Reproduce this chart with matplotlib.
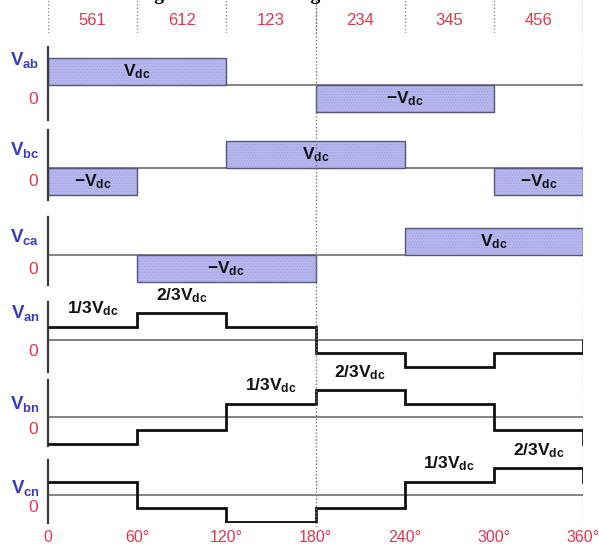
import matplotlib
matplotlib.use("Agg")
import matplotlib.pyplot as plt

plt.rcParams["font.family"] = ["Liberation Sans", "DejaVu Sans"]
plt.rcParams["mathtext.fontset"] = "custom"
plt.rcParams["mathtext.rm"] = "Liberation Sans"
plt.rcParams["mathtext.bf"] = "Liberation Sans:bold"
plt.rcParams["mathtext.it"] = "Liberation Sans:italic"
plt.rcParams["hatch.linewidth"] = 0.4

# ---------------------------------------------------------------------------
# data (one value per 60 degree sector, in units of Vdc)
# ---------------------------------------------------------------------------
edges = [0, 60, 120, 180, 240, 300, 360]
sector_names = ["561", "612", "123", "234", "345", "456"]
tick_labels = ["0", "60°", "120°", "180°", "240°", "300°", "360°"]

v_ab = [1, 1, 0, -1, -1, 0]
v_bc = [-1, 0, 1, 1, 0, -1]
v_ca = [0, -1, -1, 0, 1, 1]

v_an = [1 / 3, 2 / 3, 1 / 3, -1 / 3, -2 / 3, -1 / 3]
v_bn = [-2 / 3, -1 / 3, 1 / 3, 2 / 3, 1 / 3, -1 / 3]
v_cn = [1 / 3, -1 / 3, -2 / 3, -1 / 3, 1 / 3, 2 / 3]
end_levels = [0, -2 / 3, 1 / 3]          # where each phase trace ends at 360
labelled_sectors = [[0, 1], [2, 3], [4, 5]]

line_names = ["ab", "bc", "ca"]
phase_names = ["an", "bn", "cn"]

# ---------------------------------------------------------------------------
# layout (pixels of a 599 x 549 figure)
# ---------------------------------------------------------------------------
W, H = 599, 549
X0, X1 = 48, 583

BLUE = "#3b3bc4"
RED = "#e2384e"
BAR_FACE = "#b6b7ee"
BAR_HATCH = "#9d9edc"
BAR_EDGE = "#55557a"
AXIS_C = "#3a3a3a"
ZERO_C = "#7a7a7a"

fig = plt.figure(figsize=(W / 100, H / 100), dpi=100)


def add_axes_px(top, bottom):
    return fig.add_axes([X0 / W, 1 - bottom / H, (X1 - X0) / W, (bottom - top) / H])


def make_panel(top, bottom, zero, scale):
    ax = add_axes_px(top, bottom)
    ax.set_facecolor("none")
    ax.set_xlim(0, 360)
    ax.set_ylim(-(bottom - zero) / scale, (zero - top) / scale)
    for s in ["top", "right", "bottom"]:
        ax.spines[s].set_visible(False)
    ax.spines["left"].set_color(AXIS_C)
    ax.spines["left"].set_linewidth(1.6)
    ax.set_xticks([])
    ax.set_yticks([])
    ax.axhline(0, color=ZERO_C, lw=1.3, zorder=1)
    return ax


def side_labels(ax, name, up_px, down_px):
    ax.annotate(r"$\mathbf{V}_{\mathbf{%s}}$" % name, xy=(0, 0), xytext=(-6, up_px * 0.72),
                textcoords="offset points", ha="right", va="center",
                color=BLUE, fontsize=13.5)
    ax.annotate("0", xy=(0, 0), xytext=(-7, -down_px * 0.72),
                textcoords="offset points", ha="right", va="center",
                color=RED, fontsize=12.5)


def runs(vals):
    # group neighbouring sectors with the same value
    out = []
    i = 0
    while i < len(vals):
        j = i
        while j + 1 < len(vals) and vals[j + 1] == vals[i]:
            j += 1
        out.append((edges[i], edges[j + 1], vals[i]))
        i = j + 1
    return out


# header with sector numbers
hdr = add_axes_px(0, 33)
hdr.set_xlim(0, 360)
hdr.set_ylim(0, 1)
hdr.axis("off")
for e in edges:
    hdr.axvline(e, color="#8a8a8a", lw=1.0, ls=(0, (1, 1.5)))
for i, name in enumerate(sector_names):
    hdr.text((edges[i] + edges[i + 1]) / 2, 0.38, name, ha="center", va="center",
             color=RED, fontsize=12)

# line voltages
line_geom = [(47, 120, 85), (130, 200, 168), (217, 285, 255)]
line_up = [25, 18, 18]
for vals, name, (top, bot, zero), up in zip([v_ab, v_bc, v_ca], line_names, line_geom, line_up):
    ax = make_panel(top, bot, zero, 27)
    for a, b, v in runs(vals):
        if v == 0:
            continue
        ax.bar(a, v, width=b - a, align="edge", color=BAR_FACE, hatch="......",
               edgecolor=BAR_HATCH, lw=0, zorder=2)
        ax.bar(a, v, width=b - a, align="edge", fill=False,
               edgecolor=BAR_EDGE, lw=1.0, zorder=2)
        txt = r"$\mathbf{V_{dc}}$" if v > 0 else r"$\mathbf{-V_{dc}}$"
        ax.text((a + b) / 2, v / 2, txt, ha="center", va="center",
                fontsize=12.5, color="#111111", zorder=3)
    side_labels(ax, name, up, 14)

# phase voltages
phase_geom = [(302, 372, 340), (380, 446, 417), (460, 523, 495)]
phase_up = [27, 13, 7]
for k, (vals, name, (top, bot, zero)) in enumerate(zip([v_an, v_bn, v_cn], phase_names, phase_geom)):
    ax = make_panel(top, bot, zero, 40)
    ax.stairs(vals, edges, baseline=None, color="#111111", lw=2.0, zorder=3)
    ax.plot([edges[-1], edges[-1]], [vals[-1], end_levels[k]], color="#111111", lw=2.0, zorder=3)
    for i in labelled_sectors[k]:
        frac = "1/3" if abs(vals[i]) < 0.5 else "2/3"
        ax.annotate(r"$\mathbf{%sV_{dc}}$" % frac, xy=((edges[i] + edges[i + 1]) / 2, vals[i]),
                    xytext=(0, 6), textcoords="offset points", ha="center", va="bottom",
                    fontsize=12.5, color="#111111")
    side_labels(ax, name, phase_up[k], 12)
    if k == 2:
        ax.set_xticks(edges)
        ax.set_xticklabels(tick_labels, color=RED, fontsize=11.5)
        ax.tick_params(axis="x", length=0, pad=5)

# dotted guides running through all panels
ov = add_axes_px(0, 527)
ov.set_facecolor("none")
ov.set_xlim(0, 360)
ov.axis("off")
for e in [180, 360]:
    ov.axvline(e, color="#7a7a7a", lw=1.0, ls=(0, (1, 1.5)))

# title, mostly cut off by the top edge as in the source image
fig.text(137 / W, 1.0, "Fig. 3 Switched voltage source inverter", ha="left",
         va="baseline", family="Liberation Serif", weight="bold", fontsize=14)

fig.savefig("out.png", dpi=100)
